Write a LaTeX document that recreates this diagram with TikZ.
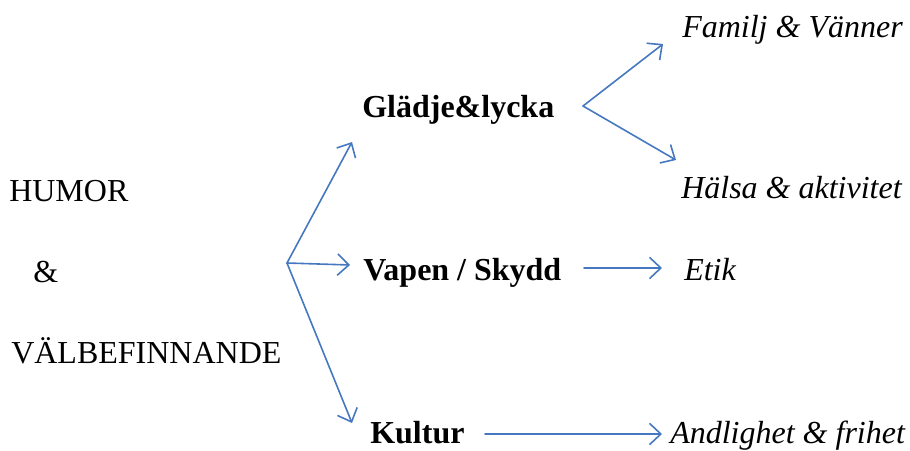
\documentclass[tikz,border=0pt]{standalone}
\usepackage{fontspec}
\setmainfont{Liberation Serif}
\usetikzlibrary{arrows.meta}
\definecolor{arrowblue}{RGB}{70,120,192}
\begin{document}
\begin{tikzpicture}[x=0.75pt, y=-0.75pt, line join=round, line cap=round]
	\tikzset{every node/.style={inner sep=0pt, anchor=base west, font=\fontsize{24}{28}\selectfont},
		pil/.style={draw=arrowblue, line width=1.2pt, -{Straight Barb[length=8.5pt, width=16pt, line width=1.2pt]}},
		rubrik/.style={font=\fontsize{24}{28}\selectfont\bfseries},
		gren/.style={font=\fontsize{24}{28}\selectfont\itshape}}
	\useasboundingbox (0,0) rectangle (910,450);
	% vänster kolumn
	\node (humor) at (9,201) {HUMOR};
	\node (och) at (33,282) {\&};
	\node (val) at (11,363) {VÄLBEFINNANDE};
	% mitten
	\node[rubrik] (gladje) at (362,117) {Glädje\&lycka};
	\node[rubrik] (vapen) at (363,280) {Vapen / Skydd};
	\node[rubrik] (kultur) at (370,443) {Kultur};
	% höger
	\node[gren] (familj) at (682,37) {Familj \& Vänner};
	\node[gren] (halsa) at (681,198) {Hälsa \& aktivitet};
	\node[gren] (etik) at (684,280) {Etik};
	\node[gren] (andlig) at (670,443) {Andlighet \& frihet};
	% pilarnas ändar
	\path (287,263) coordinate (O)
		(352,142) coordinate (O1) (350,265) coordinate (O2) (352,423) coordinate (O3)
		(583,106) coordinate (G) (663,44) coordinate (G1) (676,160) coordinate (G2)
		(584,268) coordinate (V) (662,268) coordinate (V1)
		(485,434) coordinate (K) (662,434) coordinate (K1);
	\foreach \x in {O1,O2,O3}{\draw[pil] (O)--(\x);}
	\foreach \x in {G1,G2}{\draw[pil] (G)--(\x);}
	\draw[pil] (V)--(V1);
	\draw[pil] (K)--(K1);
\end{tikzpicture}
\end{document}
